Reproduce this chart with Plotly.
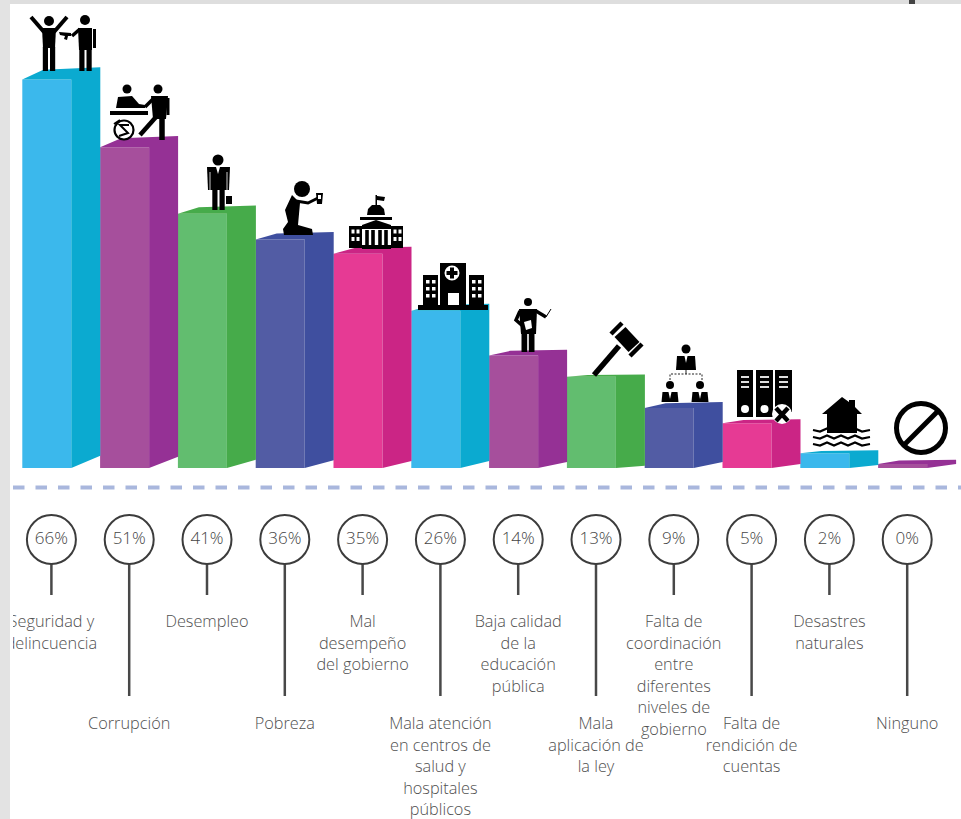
import plotly.graph_objects as go

# ---------- data ----------
categories = [
    ["Seguridad y", "delincuencia"],
    ["Corrupción"],
    ["Desempleo"],
    ["Pobreza"],
    ["Mal", "desempeño", "del gobierno"],
    ["Mala atención", "en centros de", "salud y", "hospitales", "públicos"],
    ["Baja calidad", "de la", "educación", "pública"],
    ["Mala", "aplicación de", "la ley"],
    ["Falta de", "coordinación", "entre", "diferentes", "niveles de", "gobierno"],
    ["Falta de", "rendición de", "cuentas"],
    ["Desastres", "naturales"],
    ["Ninguno"],
]
values = [66, 51, 41, 36, 35, 26, 14, 13, 9, 5, 2, 0]
# the artwork does not draw its bars strictly to scale: heights as drawn, in % units
drawn_heights = [66, 54.5, 43.2, 38.8, 36.4, 26.7, 19.1, 15.5, 10.2, 7.6, 2.5, 0.7]
depth_rise = [2.1, 1.9, 1.4, 1.3, 1.2, 1.2, 1.0, 0.4, 1.0, 0.7, 0.5, 0.7]
long_stem = [False, True, False, True, False, True, False, True, False, True, False, True]
front_colors = ["#3bb8ec", "#a64f9c", "#62bd6f", "#525ca4", "#e63a94", "#3bb8ec",
                "#a64f9c", "#62bd6f", "#525ca4", "#e63a94", "#3bb8ec", "#a64f9c"]
side_colors = ["#0baad0", "#953195", "#46ab4a", "#3f4f9f", "#cb2585", "#0baad0",
               "#953195", "#46ab4a", "#3f4f9f", "#cb2585", "#0baad0", "#953195"]

# ---------- picture geometry ----------
W, H = 961, 819
BASE, PX_PER_PCT = 468, 5.886
X0, STEP = 51.4, 77.8
def xv(px): return (px - X0) / STEP
def yv(py): return (BASE - py) / PX_PER_PCT

n = len(values)
idx = list(range(n))
BAR_W = 49 / STEP
BAR_SHIFT = -4.6 / STEP
DEPTH = 29 / STEP
BACK_INSET = 21 / STEP

fig = go.Figure()

# side + top faces
for i in idx:
    left = i + BAR_SHIFT - BAR_W / 2
    right = left + BAR_W
    back = right + DEPTH
    h, r = drawn_heights[i], depth_rise[i]
    fig.add_trace(go.Scatter(
        x=[right, left, left + BACK_INSET, back, back, right, right],
        y=[h, h, h + r * 0.8, h + r, r, 0, h],
        mode="lines", fill="toself", fillcolor=side_colors[i],
        line=dict(width=0, color=side_colors[i]), hoverinfo="skip", showlegend=False))

# front faces
fig.add_trace(go.Bar(
    x=[i + BAR_SHIFT for i in idx], y=drawn_heights, width=BAR_W,
    marker=dict(color=front_colors, line=dict(width=0)),
    customdata=values, hovertemplate="%{customdata}%<extra></extra>", showlegend=False))

# dashed separator
fig.add_trace(go.Scatter(
    x=[xv(13), xv(961)], y=[yv(487.5)] * 2, mode="lines",
    line=dict(color="#a9b7dd", width=4, dash="11.5px,11px"),
    hoverinfo="skip", showlegend=False))

# stems
for i in idx:
    fig.add_trace(go.Scatter(
        x=[i, i], y=[yv(564), yv(696 if long_stem[i] else 595)], mode="lines",
        line=dict(color="#484848", width=2.5), hoverinfo="skip", showlegend=False))

# value circles
fig.add_trace(go.Scatter(
    x=idx, y=[yv(539.5)] * n, mode="markers+text",
    marker=dict(size=49, color="white", line=dict(color="#3c3c3c", width=2)),
    text=[f"{v}%" for v in values], textposition="middle center",
    textfont=dict(family="Open Sans", size=17, color="#444444", weight=300),
    hoverinfo="skip", showlegend=False))

# category labels, one text point per printed line
LH = 21.6
tx, ty, tt = [], [], []
for i, lines in enumerate(categories):
    start = 725 if long_stem[i] else 623
    for k, line in enumerate(lines):
        tx.append(i)
        ty.append(yv(start + k * LH))
        tt.append(line)
fig.add_trace(go.Scatter(
    x=tx, y=ty, mode="text", text=tt, textposition="middle center", cliponaxis=True,
    textfont=dict(family="Open Sans", size=16.3, color="#505050", weight=300),
    hoverinfo="skip", showlegend=False))

# ---------- pictograms (decoration, drawn in picture pixels) ----------
shapes = []
def path_of(pts, close):
    d = "M " + " L ".join(f"{xv(x):.4f},{yv(y):.4f}" for x, y in pts)
    return d + (" Z" if close else "")
def poly(pts, fill="black"):
    shapes.append(dict(type="path", xref="x", yref="y", path=path_of(pts, True),
                       fillcolor=fill, line=dict(width=0), layer="above"))
def stroke(pts, w, color="black", dash=None):
    shapes.append(dict(type="path", xref="x", yref="y", path=path_of(pts, False),
                       fillcolor="rgba(0,0,0,0)",
                       line=dict(width=w, color=color, dash=dash or "solid"), layer="above"))
def disc(cx, cy, r, fill="black", lw=0, lc="black"):
    shapes.append(dict(type="circle", xref="x", yref="y",
                       x0=xv(cx - r), x1=xv(cx + r), y0=yv(cy + r), y1=yv(cy - r),
                       fillcolor=fill, line=dict(width=lw, color=lc), layer="above"))
def rect(x0, y0, x1, y1, fill="black"):
    poly([(x0, y0), (x1, y0), (x1, y1), (x0, y1)], fill)

def legs(cx, top, bottom, half=5.5, gap=1.2):
    rect(cx - half, top, cx - gap, bottom)
    rect(cx + gap, top, cx + half, bottom)

# 1 armed robbery
disc(49, 21, 5)
poly([(42, 28), (56, 28), (55, 48), (43, 48)])
legs(49, 47, 71, 6.2, 1)
stroke([(44, 32), (31, 17)], 4)
stroke([(54, 32), (67, 17)], 4)
disc(85, 20, 5)
poly([(78, 28), (92, 28), (92, 50), (79, 50)])
legs(85.5, 49, 71, 6.2, 1)
stroke([(94.5, 29), (94.5, 48)], 3)
stroke([(80, 29), (72, 36)], 3.5)
poly([(59, 32), (71, 33), (71, 36), (68, 36), (67, 40), (64, 39), (65, 36), (60, 35)])

# 2 bribery
disc(127, 89, 4.5)
poly([(116, 108), (118, 97), (132, 96), (139, 104), (145, 105), (145, 108), (137, 108)])
rect(110, 111, 148, 115)
disc(158, 89, 4.5)
poly([(151, 96), (168, 96), (166, 119), (153, 119)])
stroke([(168, 98), (168, 115)], 3)
stroke([(153, 99), (145, 107)], 3.5)
stroke([(156, 117), (140, 135)], 4.5)
stroke([(162, 117), (162, 140)], 5.5)
disc(124, 130, 9.5, "white", 2.2)
stroke([(129, 125), (120, 125), (128, 133), (119, 136)], 2)
stroke([(114, 124), (120, 120)], 2)

# 3 businessman
disc(218, 160, 5.5)
poly([(207, 167), (230, 167), (229, 190), (208, 190)])
poly([(216, 167), (220, 167), (218, 174)], "white")
legs(218.5, 189, 210, 6.2, 1)
stroke([(210, 172), (210, 190)], 0.8, "white")
stroke([(227, 172), (227, 190)], 0.8, "white")
rect(226, 196, 232, 204)

# 4 kneeling person
disc(302, 189, 8)
poly([(292, 195), (300, 203), (298, 225), (312, 229), (313, 235), (284, 235),
      (283, 229), (288, 222), (285, 210)])
stroke([(296, 201), (308, 203), (318, 198)], 3)
poly([(316, 193), (323, 193), (322, 204), (317, 204)])
rect(318, 195, 321, 199, "white")

# 5 government building
rect(375.5, 195, 377, 207)
poly([(377, 196), (385, 197), (384, 201), (377, 200)])
poly([(367, 215), (368, 209), (372, 205), (380, 205), (384, 209), (385, 215)])
rect(360, 217, 392, 220)
poly([(362, 225), (376, 220), (391, 225), (391, 229), (362, 229)])
rect(349, 226, 362, 248)
rect(391, 226, 403, 248)
for wx in (351.5, 356.5, 393.5, 398.5):
    for wy in (229.5, 237):
        rect(wx, wy, wx + 3, wy + 4, "white")
for cx in (367, 373, 380, 386):
    rect(cx - 1.8, 230, cx + 1.8, 245)
rect(362, 245, 391, 249)

# 6 hospital
rect(440, 263, 466, 305)
rect(423, 275, 438, 305)
rect(469, 275, 484, 305)
rect(418, 305, 488, 310)
disc(452, 273, 7.5, "white")
rect(450, 267.5, 454, 278.5)
rect(446.5, 271, 457.5, 275)
rect(448, 293, 459, 305, "white")
for wx in (426, 432, 472, 478):
    for wy in (280, 287, 294):
        rect(wx, wy, wx + 3.5, wy + 3.5, "white")

# 7 teacher
disc(528, 302, 4)
poly([(519, 309), (537, 309), (536, 334), (521, 334)])
legs(528, 333, 352, 6.5, 0.8)
stroke([(520, 311), (516, 320), (525, 328)], 3.5)
stroke([(536, 311), (546, 317)], 3.5)
stroke([(546, 317), (551, 309)], 1)
poly([(524, 322), (531, 320), (532, 328), (526, 330)], "white")

# 8 gavel
stroke([(594, 375), (619, 346)], 5.5)
stroke([(620, 332), (634, 347)], 15)
stroke([(611, 334), (622, 323)], 4.5)
stroke([(630, 356), (642, 344)], 4.5)

# 9 coordination chart
def bust(cx, head_y, r, top, bottom, half):
    disc(cx, head_y, r)
    poly([(cx - half + 1, top), (cx + half - 1, top), (cx + half, bottom), (cx - half, bottom)])
    poly([(cx - 1.5, top), (cx + 1.5, top), (cx, top + 7)], "white")
bust(686, 349, 4.5, 356, 370, 10)
bust(670, 385, 4, 392, 402, 8.5)
bust(700, 385, 4, 392, 402, 8.5)
stroke([(670, 380), (670, 374), (702, 374), (702, 380)], 1, "#222222", "2px,1.5px")
stroke([(686, 370), (686, 374)], 1, "#222222")

# 10 binders
for x0, x1, y1 in ((737, 753, 417), (756, 773, 417), (775, 792, 412)):
    rect(x0, 370, x1, y1)
    for sy in (377, 382, 387):
        rect(x0 + 4, sy - 1, x1 - 4, sy + 1, "#dddddd")
    if y1 == 417:
        disc((x0 + x1) / 2, 409, 4, "white")
disc(782, 414, 10, "white")
stroke([(776, 408), (788, 421)], 4.5)
stroke([(788, 408), (776, 421)], 4.5)

# 11 flood
poly([(822, 414), (842, 397), (849, 402), (849, 400), (855, 400), (855, 407), (862, 414),
      (857, 414), (857, 433), (827, 433), (827, 414)])
for wy in (430, 437, 444):
    stroke([(813, wy), (820, wy + 1.5), (827, wy - 1.5), (834, wy + 1.5), (841, wy - 1.5),
            (848, wy + 1.5), (855, wy - 1.5), (862, wy + 1.5), (870, wy)], 2.2)

# 12 forbidden sign
disc(921, 428, 24.5, "white", 5)
stroke([(905, 444), (937, 412)], 5)

# page furniture of the screenshot
for x0, x1, y0, y1, col in ((0, 961, 0, 4, "#dedede"), (0, 10, 0, 819, "#e3e3e3"),
                            (909, 915, 0, 4, "#444444")):
    shapes.append(dict(type="rect", xref="paper", yref="paper",
                       x0=x0 / W, x1=x1 / W, y0=1 - y1 / H, y1=1 - y0 / H,
                       fillcolor=col, line=dict(width=0), layer="above"))

fig.update_layout(
    width=W, height=H, margin=dict(l=0, r=0, t=0, b=0, pad=0),
    paper_bgcolor="white", plot_bgcolor="white", showlegend=False, shapes=shapes,
    xaxis=dict(domain=[13 / W, 1], range=[xv(13), xv(961)], visible=False, fixedrange=True),
    yaxis=dict(domain=[0, 1], range=[yv(819), yv(0)], visible=False, fixedrange=True),
)
fig.write_html("out.html", config=dict(displayModeBar=False),
               post_script="document.body.style.margin='0';document.body.style.overflow='hidden';")
